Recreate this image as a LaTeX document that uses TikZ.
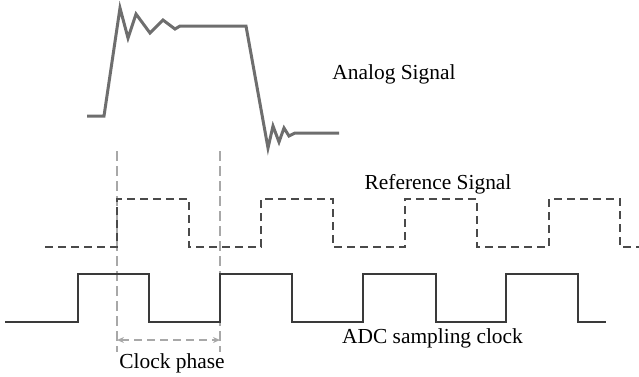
\documentclass[tikz,border=0pt]{standalone}
\usepackage{fontspec}
\setmainfont{Liberation Serif}
\usetikzlibrary{arrows.meta}
\definecolor{analog}{HTML}{6E6E6E}
\definecolor{refc}{HTML}{4A4A4A}
\definecolor{clk}{HTML}{3A3A3A}
\definecolor{guide}{HTML}{A8A8A8}
\tikzset{
  analogwave/.style={draw=analog, line width=3pt, line join=miter},
  refwave/.style={draw=refc, line width=1.4pt, dash pattern=on 8pt off 5pt},
  clkwave/.style={draw=clk, line width=1.4pt},
  guideline/.style={draw=guide, line width=1.3pt, dash pattern=on 10pt off 5pt},
  phasearrow/.style={draw=guide, line width=1.3pt, dash pattern=on 8pt off 5pt, {Stealth[length=7pt,width=6pt]}-{Stealth[length=7pt,width=6pt]}},
  lbl/.style={font=\fontsize{21.4}{23}\selectfont, text=black, inner sep=0pt}
}
\begin{document}
\begin{tikzpicture}[x=1pt,y=-1pt]
\useasboundingbox (0,0) rectangle (639,376);
% analog signal
\draw[analogwave] (87,116) -- (104,116) -- (120,8) -- (128,38) -- (136,14) -- (150,33) -- (163,20) -- (175,29) -- (180,26) -- (246,26) -- (268,148) -- (273,126) -- (279,142) -- (284,128) -- (289,136) -- (295,133) -- (339,133);
% guide lines
\coordinate (g1t) at (117,151); \coordinate (g1b) at (117,352);
\coordinate (g2t) at (220,151); \coordinate (g2b) at (220,352);
\draw[guideline] (g1t) -- (g1b);
\draw[guideline] (g2t) -- (g2b);
% reference signal
\draw[refwave] (45,247) -- (117,247) -- (117,199) -- (189,199) -- (189,247) -- (261,247) -- (261,199) -- (333,199) -- (333,247) -- (405,247) -- (405,199) -- (477,199) -- (477,247) -- (549,247) -- (549,199) -- (620,199) -- (620,247) -- (639,247);
% clock
\draw[clkwave] (5,322) -- (78,322) -- (78,274) -- (149,274) -- (149,322) -- (220,322) -- (220,274) -- (292,274) -- (292,322) -- (363,322) -- (363,274) -- (436,274) -- (436,322) -- (506,322) -- (506,274) -- (578,274) -- (578,322) -- (606,322);
% phase arrow
\coordinate (pa) at (117,340); \coordinate (pb) at (220,340);
\draw[phasearrow] (pa) -- (pb);
% labels
\node[lbl] (lanalog) at (394,74) {Analog Signal};
\node[lbl] (lref) at (438,184) {Reference Signal};
\node[lbl] (ladc) at (432.5,338) {ADC sampling clock};
\node[lbl] (lphase) at (172,363) {Clock phase};
\end{tikzpicture}
\end{document}
